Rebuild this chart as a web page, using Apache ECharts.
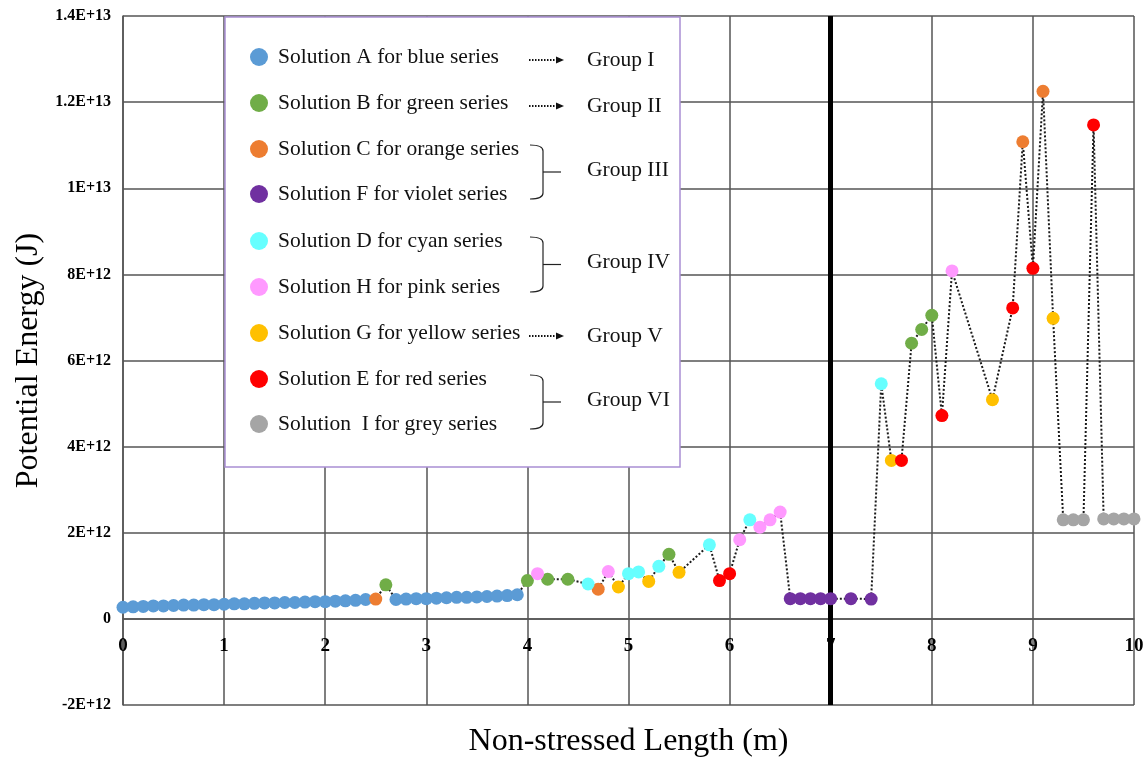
<!DOCTYPE html>
<html>
<head>
<meta charset="utf-8">
<title>Potential Energy vs Non-stressed Length</title>
<script src="https://cdn.jsdelivr.net/npm/echarts@6/dist/echarts.min.js"></script>
<style>
  html, body { margin: 0; padding: 0; background: #fff; }
  #chart { width: 1148px; height: 758px; }
</style>
</head>
<body>
<div id="chart"></div>
<script>
// Potential energy (J) for each solution at given non-stressed lengths (m)
const solutionA = [
  [0.0, 0.27e12], [0.1, 0.28e12], [0.2, 0.29e12], [0.3, 0.30e12], [0.4, 0.30e12],
  [0.5, 0.31e12], [0.6, 0.32e12], [0.7, 0.32e12], [0.8, 0.33e12], [0.9, 0.33e12],
  [1.0, 0.34e12], [1.1, 0.35e12], [1.2, 0.35e12], [1.3, 0.36e12], [1.4, 0.37e12],
  [1.5, 0.37e12], [1.6, 0.38e12], [1.7, 0.38e12], [1.8, 0.39e12], [1.9, 0.40e12],
  [2.0, 0.40e12], [2.1, 0.41e12], [2.2, 0.42e12], [2.3, 0.43e12], [2.4, 0.45e12],
  [2.7, 0.45e12], [2.8, 0.46e12], [2.9, 0.47e12], [3.0, 0.47e12], [3.1, 0.48e12],
  [3.2, 0.49e12], [3.3, 0.50e12], [3.4, 0.50e12], [3.5, 0.51e12], [3.6, 0.52e12],
  [3.7, 0.53e12], [3.8, 0.54e12], [3.9, 0.56e12]
];
const solutionB = [[2.6, 0.79e12], [4.0, 0.89e12], [4.2, 0.92e12], [4.4, 0.92e12], [5.4, 1.50e12], [7.8, 6.40e12], [7.9, 6.72e12], [8.0, 7.05e12]];
const solutionC = [[2.5, 0.46e12], [4.7, 0.69e12], [8.9, 11.08e12], [9.1, 12.25e12]];
const solutionD = [[4.6, 0.81e12], [5.0, 1.05e12], [5.1, 1.09e12], [5.3, 1.22e12], [5.8, 1.72e12], [6.2, 2.30e12], [7.5, 5.46e12]];
const solutionE = [[5.9, 0.89e12], [6.0, 1.05e12], [7.7, 3.68e12], [8.1, 4.72e12], [8.8, 7.22e12], [9.0, 8.14e12], [9.6, 11.47e12]];
const solutionF = [[6.6, 0.47e12], [6.7, 0.47e12], [6.8, 0.47e12], [6.9, 0.47e12], [7.0, 0.47e12], [7.2, 0.47e12], [7.4, 0.46e12]];
const solutionG = [[4.9, 0.74e12], [5.2, 0.87e12], [5.5, 1.08e12], [7.6, 3.68e12], [8.6, 5.09e12], [9.2, 6.98e12]];
const solutionH = [[4.1, 1.05e12], [4.8, 1.10e12], [6.1, 1.84e12], [6.3, 2.13e12], [6.4, 2.30e12], [6.5, 2.48e12], [8.2, 8.08e12]];
const solutionI = [[9.3, 2.30e12], [9.4, 2.30e12], [9.5, 2.30e12], [9.7, 2.32e12], [9.8, 2.32e12], [9.9, 2.32e12], [10.0, 2.32e12]];

const seriesNames = ['Solution A', 'Solution B', 'Solution C', 'Solution F', 'Solution D', 'Solution H', 'Solution G', 'Solution E', 'Solution I'];
const seriesData = [solutionA, solutionB, solutionC, solutionF, solutionD, solutionH, solutionG, solutionE, solutionI];
const seriesColors = ['#5B9BD5', '#70AD47', '#ED7D31', '#7030A0', '#66FFFF', '#FF99FF', '#FFC000', '#FF0000', '#A5A5A5'];

// Legend rows and group labels
const legendLabels = [
  'Solution A for blue series',
  'Solution B for green series',
  'Solution C for orange series',
  'Solution F for violet series',
  'Solution D for cyan series',
  'Solution H for pink series',
  'Solution G for yellow series',
  'Solution E for red series',
  'Solution  I for grey series'
];
const groupLabels = ['Group I', 'Group II', 'Group III', 'Group IV', 'Group V', 'Group VI'];
// rows covered by each group (first, last)
const groupRows = [[0, 0], [1, 1], [2, 3], [4, 5], [6, 6], [7, 8]];

const xTickLabels = ['0', '1', '2', '3', '4', '5', '6', '7', '8', '9', '10'];
const yTickLabels = ['-2E+12', '0', '2E+12', '4E+12', '6E+12', '8E+12', '1E+13', '1.2E+13', '1.4E+13'];
const xMin = 0, xMax = 10, xStep = 1;
const yMin = -2e12, yMax = 1.4e13, yStep = 2e12;
const dividerX = 7;

// One dotted path through every point, ordered by length
const allPoints = seriesData.flat().slice().sort((a, b) => a[0] - b[0]);

const serif = "'Liberation Serif', 'Times New Roman', serif";
const gridColor = '#555';

const W = 1148, H = 758;
const grid = { left: 123, right: 14, top: 16, bottom: 53 };
// shift the length axis up so it crosses the energy axis at zero
const plotHeight = H - grid.top - grid.bottom;
const xAxisLift = plotHeight * (0 - yMin) / (yMax - yMin);

const chart = echarts.init(document.getElementById('chart'), null, { renderer: 'canvas' });

// Legend box drawn as graphics
const graphics = [];
const box = { left: 225, top: 17, right: 680, bottom: 467 };
graphics.push({
  type: 'rect', z: 100,
  shape: { x: box.left, y: box.top, width: box.right - box.left, height: box.bottom - box.top },
  style: { fill: '#fff', stroke: '#A98FD3', lineWidth: 1.5 }
});
const rowY = [57, 103, 149, 194, 241, 287, 333, 379, 424];
const textFont = '21.5px ' + serif;
legendLabels.forEach((label, i) => {
  graphics.push({
    type: 'circle', z: 101,
    shape: { cx: 259, cy: rowY[i], r: 9 },
    style: { fill: seriesColors[i] }
  });
  graphics.push({
    type: 'text', z: 101,
    x: 278, y: rowY[i],
    style: { text: label, font: textFont, fill: '#111', verticalAlign: 'middle' }
  });
});
const braceStyle = { fill: null, stroke: '#222', lineWidth: 1.2 };
groupLabels.forEach((g, i) => {
  const [r0, r1] = groupRows[i];
  let gy;
  if (r0 === r1) {
    gy = rowY[r0] + 3;
    const ay = rowY[r0] + 3;
    graphics.push({
      type: 'line', z: 101,
      shape: { x1: 529, y1: ay, x2: 556, y2: ay },
      style: { stroke: '#111', lineWidth: 2, lineDash: [1.5, 1.5] }
    });
    graphics.push({
      type: 'polygon', z: 101,
      shape: { points: [[556, ay - 3.5], [564, ay], [556, ay + 3.5]] },
      style: { fill: '#111' }
    });
  } else {
    const y0 = rowY[r0] - 4, y1 = rowY[r1] + 5;
    const ym = (y0 + y1) / 2;
    gy = ym - 2;
    graphics.push(
      { type: 'bezierCurve', z: 101, shape: { x1: 530, y1: y0, cpx1: 543, cpy1: y0, x2: 543, y2: y0 + 6 }, style: braceStyle },
      { type: 'line', z: 101, shape: { x1: 543, y1: y0 + 6, x2: 543, y2: y1 - 6 }, style: braceStyle },
      { type: 'bezierCurve', z: 101, shape: { x1: 543, y1: y1 - 6, cpx1: 543, cpy1: y1, x2: 530, y2: y1 }, style: braceStyle },
      { type: 'line', z: 101, shape: { x1: 543, y1: ym, x2: 561, y2: ym }, style: braceStyle }
    );
  }
  graphics.push({
    type: 'text', z: 101,
    x: 587, y: gy,
    style: { text: g, font: textFont, fill: '#111', verticalAlign: 'middle' }
  });
});

const scatterSeries = seriesData.map((data, i) => ({
  name: seriesNames[i],
  type: 'scatter',
  xAxisIndex: 0,
  data: data,
  symbol: 'circle',
  symbolSize: 13,
  itemStyle: { color: seriesColors[i], opacity: 1 },
  z: 5,
  silent: true
}));

const option = {
  animation: false,
  backgroundColor: '#fff',
  grid: Object.assign({ containLabel: false, outerBoundsMode: 'none' }, grid),
  xAxis: [
    {
      // grid lines and the zero line
      type: 'value',
      min: xMin, max: xMax, interval: xStep,
      offset: -xAxisLift,
      axisLine: { onZero: false, lineStyle: { color: gridColor, width: 1.5 } },
      axisTick: { show: false },
      axisLabel: { show: false },
      splitLine: { show: true, lineStyle: { color: gridColor, width: 1.5 } }
    },
    {
      // tick labels and title, kept above the divider line
      type: 'value',
      position: 'bottom',
      min: xMin, max: xMax, interval: xStep,
      offset: -xAxisLift,
      z: 10,
      name: 'Non-stressed Length (m)',
      nameLocation: 'middle',
      nameGap: 107,
      nameTextStyle: { fontFamily: serif, fontSize: 32, color: '#000' },
      axisLine: { show: false, onZero: false },
      axisTick: { show: false },
      axisLabel: {
        margin: 18,
        fontFamily: serif, fontSize: 19, fontWeight: 'bold', color: '#000',
        formatter: (v) => xTickLabels[Math.round((v - xMin) / xStep)]
      },
      splitLine: { show: false }
    }
  ],
  yAxis: {
    type: 'value',
    min: yMin, max: yMax, interval: yStep,
    name: 'Potential Energy (J)',
    nameLocation: 'middle',
    nameRotate: 90,
    nameGap: 78,
    nameTextStyle: { fontFamily: serif, fontSize: 32, color: '#000' },
    axisLine: { show: true, onZero: false, lineStyle: { color: gridColor, width: 1.5 } },
    axisTick: { show: false },
    axisLabel: {
      margin: 12,
      fontFamily: serif, fontSize: 16, fontWeight: 'bold', color: '#000',
      formatter: (v) => yTickLabels[Math.round((v - yMin) / yStep)]
    },
    splitLine: { show: true, lineStyle: { color: gridColor, width: 1.5 } }
  },
  series: [
    {
      name: 'path',
      type: 'line',
      xAxisIndex: 0,
      data: allPoints,
      showSymbol: false,
      symbol: 'none',
      lineStyle: { color: '#1a1a1a', width: 2, type: [2, 2] },
      z: 3,
      silent: true,
      markLine: {
        silent: true,
        symbol: 'none',
        label: { show: false },
        lineStyle: { color: '#000', width: 5, type: 'solid' },
        data: [{ xAxis: dividerX }],
        z: 4
      }
    },
    ...scatterSeries
  ],
  graphic: graphics
};

chart.setOption(option);
</script>
</body>
</html>
